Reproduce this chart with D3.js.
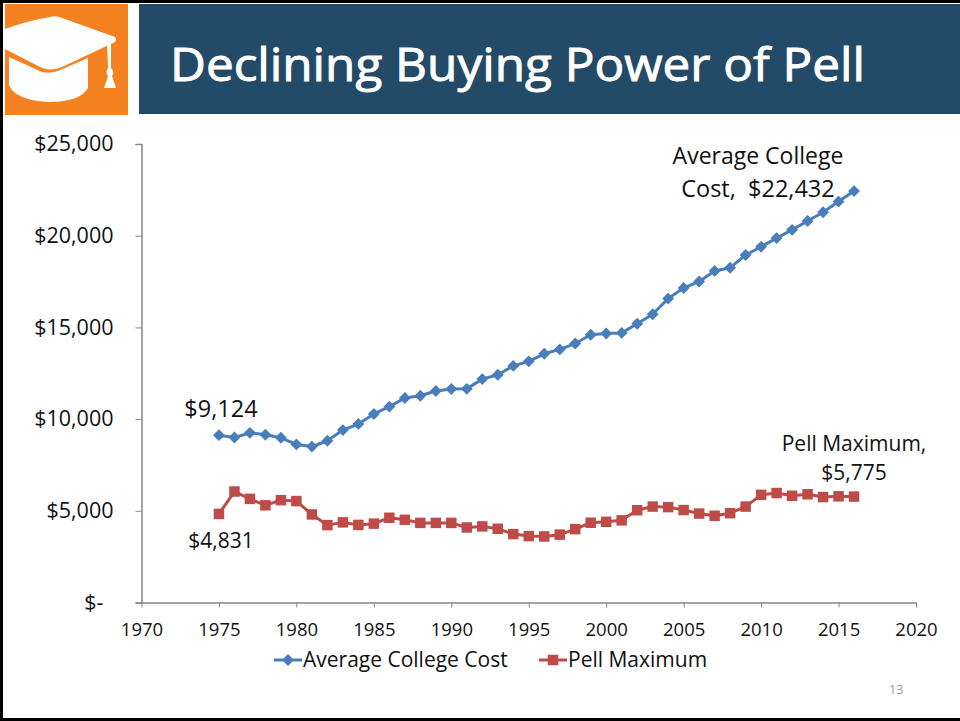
<!DOCTYPE html>
<html><head><meta charset="utf-8">
<script src="https://cdnjs.cloudflare.com/ajax/libs/d3/7.8.5/d3.min.js"></script>
<style>html,body{margin:0;padding:0;background:#fff}svg{display:block}text{font-family:"Open Sans",sans-serif;fill:#111}</style>
</head><body><svg id="c" width="960" height="721"></svg>
<script>
const years=d3.range(1975,2017);
const collegeCost=[9124,9000,9250,9150,8980,8620,8500,8820,9400,9730,10280,10680,11150,11270,11530,11640,11650,12180,12420,12900,13150,13560,13800,14120,14600,14670,14700,15200,15720,16570,17150,17500,18080,18250,18950,19400,19870,20320,20800,21280,21860,22432];
const pellMax=[4831,6050,5650,5300,5580,5530,4800,4220,4370,4230,4300,4620,4510,4340,4340,4340,4090,4150,4020,3730,3620,3600,3700,4000,4350,4400,4480,5030,5230,5200,5040,4850,4730,4870,5230,5870,5970,5820,5900,5750,5790,5775];
const xTicks=d3.range(1970,2021,5);
const yTicks=[0,5000,10000,15000,20000,25000];
const yLabels=["$-","$5,000","$10,000","$15,000","$20,000","$25,000"];
const title="Declining Buying Power of Pell";
const seriesNames=["Average College Cost","Pell Maximum"];
const blue="#4a7ebb",red="#be4b48",axisCol="#868686";

const svg=d3.select("#c");
const x=d3.scaleLinear().domain([1970,2020]).range([141.5,916]);
const y=d3.scaleLinear().domain([0,25000]).range([602.5,144]);

// slide furniture
svg.append("rect").attr("x",139).attr("y",4).attr("width",821).attr("height",110).attr("fill","#234a66");
svg.append("rect").attr("x",5).attr("y",4).attr("width",123).attr("height",111).attr("fill","#f58220");
const cap=svg.append("g").attr("fill","#fff");
cap.append("path").attr("d","M5,29 Q30,20 50,17 Q56,15 62,18 L115,37 Q117,39 115,42 L62,67 Q50,72 40,67 L5,49 Z");
cap.append("path").attr("d","M9,57 L42,72 Q50,74 58,71 L88,58 L88,88 Q80,102 48,102 Q15,100 9,85 Z");
cap.append("path").attr("d","M107,43 L111,41 L111,68 Q115,72 112,76 L116,88 L104,88 L108,76 Q105,72 108,68 Z");
svg.append("text").attr("x",170).attr("y",81).attr("font-size",45.5).style("fill","#fff").style("stroke","#fff").style("stroke-width",0.9).attr("textLength",695).attr("lengthAdjust","spacingAndGlyphs").text(title);

// frame
svg.append("path").attr("d","M1.5,721 V1.5 H960 M0,719.5 H960").attr("fill","none").attr("stroke","#000").attr("stroke-width",3);

// axes
const gy=svg.append("g").attr("transform","translate(141.5,0)")
 .call(d3.axisLeft(y).tickValues(yTicks).tickSize(6).tickFormat((d,i)=>yLabels[i]));
const gx=svg.append("g").attr("transform","translate(0,602.5)")
 .call(d3.axisBottom(x).tickValues(xTicks).tickSize(5).tickSizeOuter(0).tickFormat(d3.format("d")));
[gx,gy].forEach(g=>{g.selectAll("path,line").attr("stroke",axisCol);g.select("path").attr("stroke-width",1.5);g.selectAll("text").style("font-family",'"Open Sans",sans-serif').style("fill","#111")});
gx.selectAll("text").attr("font-size",18.5).attr("y",20.5).attr("dy","0.71em");
gy.selectAll("text").attr("font-size",21.5).attr("x",d=>d===0?-38:-28);

// series
const line=v=>d3.line().x((d,i)=>x(years[i])).y(d=>y(d))(v);
function drawSeries(vals,col,sym,size){
 svg.append("path").attr("d",line(vals)).attr("fill","none").attr("stroke",col).attr("stroke-width",3).attr("stroke-linejoin","round");
 svg.append("g").selectAll("path").data(vals).join("path")
  .attr("transform",(d,i)=>`translate(${x(years[i])},${y(d)})`)
  .attr("d",d3.symbol().type(sym).size(size)).attr("fill",col);
}
drawSeries(collegeCost,blue,d3.symbolDiamond2,90);
drawSeries(pellMax,red,d3.symbolSquare,110);

// annotations
const note=(t,ax,ay,fs)=>svg.append("text").attr("x",ax).attr("y",ay).attr("text-anchor","middle").attr("font-size",fs).text(t);
note("Average College",758,164,23);
note("Cost,  $22,432",758,197,23.5).style("white-space","pre");
note("Pell Maximum,",854,451,21);
note("$5,775",854,480,21);
note("$9,124",221,417,23.5);
note("$4,831",221,548,21);

// legend
const ly=660;
svg.append("line").attr("x1",274).attr("x2",302).attr("y1",ly).attr("y2",ly).attr("stroke",blue).attr("stroke-width",3);
svg.append("path").attr("transform",`translate(288,${ly})`).attr("d",d3.symbol().type(d3.symbolDiamond2).size(90)).attr("fill",blue);
svg.append("text").attr("x",303).attr("y",667).attr("font-size",21).text(seriesNames[0]);
svg.append("line").attr("x1",539).attr("x2",567).attr("y1",ly).attr("y2",ly).attr("stroke",red).attr("stroke-width",3);
svg.append("path").attr("transform",`translate(553,${ly})`).attr("d",d3.symbol().type(d3.symbolSquare).size(110)).attr("fill",red);
svg.append("text").attr("x",568).attr("y",667).attr("font-size",21).text(seriesNames[1]);

svg.append("text").attr("x",889).attr("y",694).attr("font-size",12.5).style("fill","#9a9a9a").text("13");
</script></body></html>
